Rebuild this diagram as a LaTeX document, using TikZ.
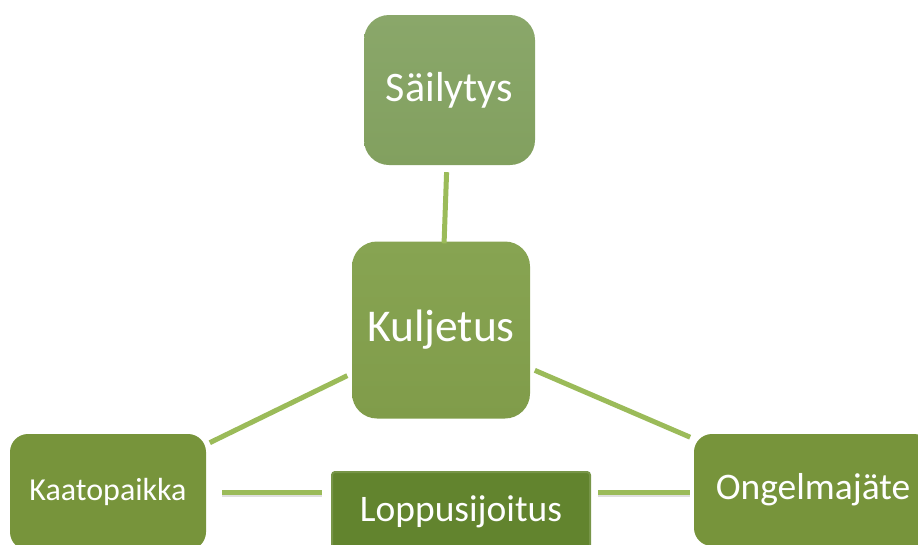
\documentclass[tikz,border=0pt]{standalone}
\usepackage{fontspec}
\setmainfont{Carlito}
\definecolor{gAtop}{HTML}{8AA76A}
\definecolor{gAbot}{HTML}{82A05F}
\definecolor{gBtop}{HTML}{87A452}
\definecolor{gBbot}{HTML}{809C4A}
\definecolor{gC}{HTML}{77943B}
\definecolor{gD}{HTML}{62842E}
\definecolor{gDb}{HTML}{779548}
\definecolor{link}{HTML}{9BBB59}
\tikzset{
  box/.style={rounded corners=25pt, inner sep=0pt, text=white, anchor=center},
  linkline/.style={draw=link, line width=5pt},
  shadowline/.style={draw=black!25, line width=5pt, opacity=0.5},
}
\begin{document}
\begin{tikzpicture}[x=1pt,y=-1pt]
\useasboundingbox (0,0) rectangle (918,544);
\clip (0,0) rectangle (918,544);
\node[box, top color=gAtop, bottom color=gAbot, minimum width=171pt, minimum height=150pt, font=\fontsize{42}{48}\selectfont] (sail) at (449.5,90) {Säilytys};
\node[box, top color=gBtop, bottom color=gBbot, minimum width=178pt, minimum height=177pt, font=\fontsize{45.5}{50}\selectfont] (kulj) at (441,330) {Kuljetus};
\node[box, fill=gC, rounded corners=18pt, minimum width=196pt, minimum height=116pt, font=\fontsize{32}{36}\selectfont] (kaato) at (108,492) {Kaatopaikka};
\node[box, fill=gC, rounded corners=18pt, minimum width=238pt, minimum height=112pt, font=\fontsize{37.5}{42}\selectfont] (onge) at (813,490) {Ongelmajäte};
\node[box, fill=gD, draw=gDb, line width=2pt, rounded corners=3pt, minimum width=258pt, minimum height=80pt, font=\fontsize{37.5}{42}\selectfont] (lopp) at (461,512) {Loppusijoitus};
% connector shadows
\begin{scope}[transform canvas={yshift=-2pt}]
\draw[shadowline, shorten <=16pt, shorten >=9pt] (kaato.east) -- (kaato.east -| lopp.west);
\draw[shadowline, shorten <=7pt, shorten >=4pt] (kaato.east -| lopp.east) -- (kaato.east -| onge.west);
\end{scope}
% connectors
\draw[linkline, shorten <=7pt, shorten >=-2pt] (sail) -- (kulj);
\draw[linkline, shorten <=5pt, shorten >=4pt] (kulj) -- (kaato);
\draw[linkline, shorten <=5pt, shorten >=4pt] (kulj) -- (onge);
\draw[linkline, shorten <=16pt, shorten >=9pt] (kaato.east) -- (kaato.east -| lopp.west);
\draw[linkline, shorten <=7pt, shorten >=4pt] (kaato.east -| lopp.east) -- (kaato.east -| onge.west);
\end{tikzpicture}
\end{document}
